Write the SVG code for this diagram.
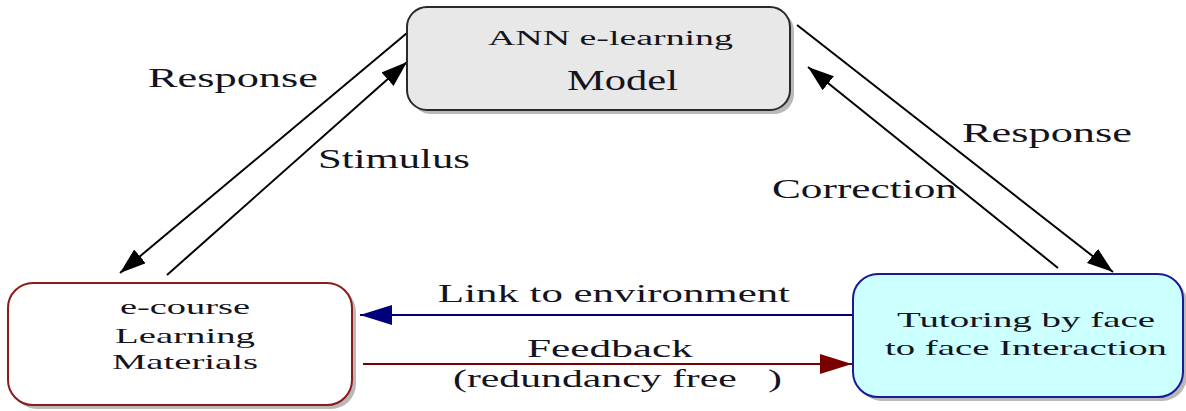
<svg xmlns="http://www.w3.org/2000/svg" width="1186" height="411" viewBox="0 0 1186 411">
<style>
.t{font-family:"Liberation Serif","Times New Roman",serif;fill:#141420}
.sh{fill:#8a8a8a;opacity:0.6}
.c{fill:none;stroke-width:2}
</style>
<defs>
<marker id="ab" markerUnits="userSpaceOnUse" markerWidth="28" markerHeight="20" refX="26" refY="9" orient="auto">
<path d="M0,0 L26,9 L0,18 z" fill="#000"/>
</marker>
<marker id="ablue" markerUnits="userSpaceOnUse" markerWidth="34" markerHeight="22" refX="32" refY="10" orient="auto">
<path d="M0,0 L32,10 L0,20 z" fill="#00007a"/>
</marker>
<marker id="ared" markerUnits="userSpaceOnUse" markerWidth="34" markerHeight="22" refX="32" refY="10" orient="auto">
<path d="M0,0 L32,10 L0,20 z" fill="#7a0000"/>
</marker>
</defs>
<rect width="1186" height="411" fill="#fff"/>

<g id="connectors">
<line class="c" stroke="#000" x1="407" y1="33" x2="120" y2="273" marker-end="url(#ab)"/>
<line class="c" stroke="#000" x1="167" y1="275" x2="407" y2="62" marker-end="url(#ab)"/>
<line class="c" stroke="#000" x1="797" y1="25" x2="1113" y2="272" marker-end="url(#ab)"/>
<line class="c" stroke="#000" x1="1058" y1="268" x2="808" y2="67" marker-end="url(#ab)"/>
<line class="c" stroke="#00007a" x1="853" y1="315" x2="360" y2="315" marker-end="url(#ablue)"/>
<line class="c" stroke="#7a0000" x1="363" y1="364" x2="852" y2="364" marker-end="url(#ared)"/>
<text class="t" x="148" y="87" font-size="28" textLength="170" lengthAdjust="spacingAndGlyphs">Response</text>
<text class="t" x="318" y="168" font-size="28" textLength="152" lengthAdjust="spacingAndGlyphs">Stimulus</text>
<text class="t" x="962" y="142" font-size="28" textLength="170" lengthAdjust="spacingAndGlyphs">Response</text>
<text class="t" x="772" y="198" font-size="28" textLength="185" lengthAdjust="spacingAndGlyphs">Correction</text>
<text class="t" x="438" y="302" font-size="26" textLength="352" lengthAdjust="spacingAndGlyphs">Link to environment</text>
<text class="t" x="527" y="357" font-size="26" textLength="166" lengthAdjust="spacingAndGlyphs">Feedback</text>
<text class="t" x="453" y="387" font-size="26" textLength="329" lengthAdjust="spacingAndGlyphs" xml:space="preserve" style="white-space:pre">(redundancy free   )</text>
</g>

<g id="node-ann">
<rect class="sh" x="411" y="11" width="383" height="103" rx="20"/>
<rect x="407" y="7" width="383" height="103" rx="20" fill="#e8e8e8" stroke="#2a2a2a" stroke-width="2"/>
<text class="t" x="488" y="45" font-size="20" textLength="245" lengthAdjust="spacingAndGlyphs">ANN e-learning</text>
<text class="t" x="567" y="90" font-size="29" textLength="111" lengthAdjust="spacingAndGlyphs">Model</text>
</g>

<g id="node-ecourse">
<rect class="sh" x="12" y="287" width="344" height="122" rx="25"/>
<rect x="8" y="283" width="344" height="122" rx="25" fill="#fff" stroke="#8b1a1a" stroke-width="2"/>
<text class="t" x="120" y="314" font-size="21" textLength="130" lengthAdjust="spacingAndGlyphs">e-course</text>
<text class="t" x="115" y="343" font-size="21" textLength="140" lengthAdjust="spacingAndGlyphs">Learning</text>
<text class="t" x="112" y="369" font-size="21" textLength="146" lengthAdjust="spacingAndGlyphs">Materials</text>
</g>

<g id="node-tutoring">
<rect class="sh" x="857" y="278" width="330" height="123" rx="25"/>
<rect x="853" y="274" width="330" height="123" rx="25" fill="#ccffff" stroke="#1a1a99" stroke-width="2"/>
<text class="t" x="897" y="327" font-size="22" textLength="258" lengthAdjust="spacingAndGlyphs">Tutoring by face</text>
<text class="t" x="885" y="355" font-size="22" textLength="282" lengthAdjust="spacingAndGlyphs">to face Interaction</text>
</g>
</svg>
